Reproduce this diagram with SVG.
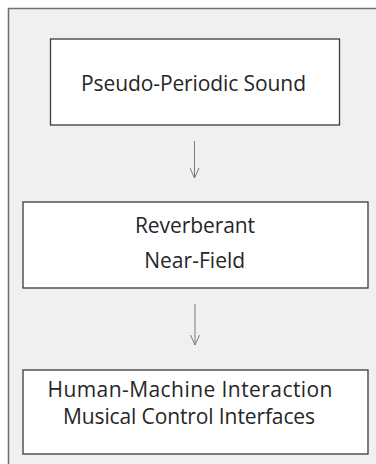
<svg xmlns="http://www.w3.org/2000/svg" width="376" height="464" viewBox="0 0 376 464">
  <style>
    .box { fill: #ffffff; stroke: #3a3a3a; stroke-width: 1.3; }
    .label { font-family: "Open Sans", "Liberation Sans", sans-serif; font-size: 21px; fill: #262626; text-anchor: middle; }
    .link { stroke: #7a7a7a; stroke-width: 1; fill: none; marker-end: url(#tip); }
  </style>
  <defs>
    <marker id="tip" viewBox="0 0 12 10" refX="11" refY="5" markerWidth="12" markerHeight="10" markerUnits="userSpaceOnUse" orient="auto">
      <path d="M1,0.5 L11,5 L1,9.5" fill="none" stroke="#7a7a7a" stroke-width="1"/>
    </marker>
  </defs>

  <!-- background panel (runs past the right and bottom edges) -->
  <rect x="8.5" y="8.5" width="390" height="480" fill="#f0f0f0" stroke="#6e6e6e" stroke-width="1.5"/>

  <g id="connectors">
    <line class="link" x1="194.5" y1="141" x2="194.5" y2="178"/>
    <line class="link" x1="195" y1="304" x2="195" y2="345"/>
  </g>

  <g id="node-sound">
    <rect class="box" x="50.5" y="39" width="289" height="86"/>
    <text class="label" x="193.5" y="91" textLength="225">Pseudo-Periodic Sound</text>
  </g>

  <g id="node-field">
    <rect class="box" x="23" y="202" width="345" height="86"/>
    <text class="label" x="195" y="233" textLength="120">Reverberant</text>
    <text class="label" x="194.7" y="268" textLength="101">Near-Field</text>
  </g>

  <g id="node-interfaces">
    <rect class="box" x="23" y="370" width="345" height="84"/>
    <text class="label" x="190" y="396.5" textLength="285">Human-Machine Interaction</text>
    <text class="label" x="189" y="424" textLength="252">Musical Control Interfaces</text>
  </g>
</svg>
